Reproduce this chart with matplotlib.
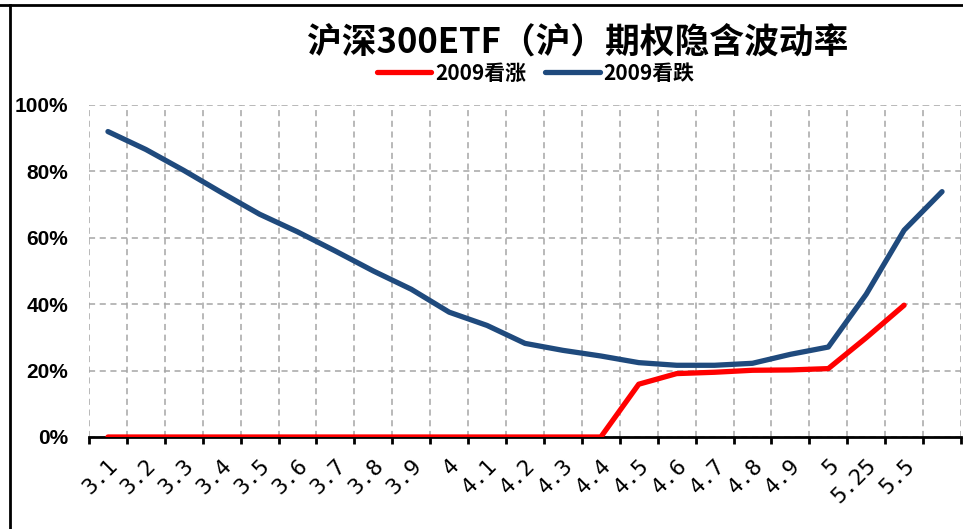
import matplotlib
matplotlib.use("Agg")
import matplotlib.pyplot as plt
from matplotlib.lines import Line2D
from matplotlib.ticker import FixedLocator, FuncFormatter

plt.rcParams['font.family'] = ['Noto Sans CJK SC', 'DejaVu Sans']

categories = ['3.1', '3.2', '3.3', '3.4', '3.5', '3.6', '3.7', '3.8', '3.9',
              '4', '4.1', '4.2', '4.3', '4.4', '4.5', '4.6', '4.7', '4.8', '4.9',
              '5', '5.25', '5.5', '']
call_2009 = [0.0, 0.0, 0.0, 0.0, 0.0, 0.0, 0.0, 0.0, 0.0, 0.0, 0.0, 0.0, 0.0, 0.0,
             0.159, 0.191, 0.195, 0.201, 0.202, 0.206, 0.299, 0.397]
put_2009 = [0.92, 0.866, 0.803, 0.736, 0.671, 0.618, 0.560, 0.50, 0.445, 0.376,
            0.336, 0.282, 0.261, 0.244, 0.224, 0.216, 0.216, 0.222, 0.249, 0.271,
            0.43, 0.623, 0.739]
yticks = [0.0, 0.2, 0.4, 0.6, 0.8, 1.0]

W, H = 963, 529
fig = plt.figure(figsize=(W / 100, H / 100), dpi=100)
ax = fig.add_axes([89 / W, (H - 437) / H, 872 / W, 332 / H])

red = '#FF0000'
blue = '#1F4A7D'
ax.plot(range(len(call_2009)), call_2009, color=red, lw=3.8,
        solid_capstyle='round', solid_joinstyle='round', label='2009看涨', zorder=4)
ax.plot(range(len(put_2009)), put_2009, color=blue, lw=3.8,
        solid_capstyle='round', solid_joinstyle='round', label='2009看跌', zorder=3)

n = len(categories)
ax.set_xlim(-0.5, n - 0.5)
ax.set_ylim(0, 1.0)

# category boundaries as major ticks, category centers as minor ticks (labels)
ax.xaxis.set_major_locator(FixedLocator([i - 0.5 for i in range(n + 1)]))
ax.xaxis.set_minor_locator(FixedLocator(list(range(n))))
ax.set_xticklabels([], minor=False)
ax.set_xticklabels(categories, minor=True)
ax.tick_params(axis='x', which='major', direction='out', length=5, width=2, color='black')
ax.tick_params(axis='x', which='minor', length=0, pad=13, labelsize=16)
for lab in ax.get_xticklabels(minor=True):
    lab.set_rotation(45)
    lab.set_ha('right')
    lab.set_va('top')
    lab.set_rotation_mode('anchor')
    lab.set_family(['DejaVu Sans Mono'])

ax.set_yticks(yticks)
ax.yaxis.set_major_formatter(FuncFormatter(lambda v, p: f'{v * 100:.0f}%'))
ax.tick_params(axis='y', length=0, pad=15)
for lab in ax.get_yticklabels():
    lab.set_family(['Liberation Sans'])
    lab.set_fontweight('bold')
    lab.set_fontsize(15)

ax.grid(True, which='major', axis='both', color='#A6A6A6', linestyle=(0, (4, 3)), lw=1.1)
ax.set_axisbelow(True)
for s in ['top', 'right', 'left']:
    ax.spines[s].set_visible(False)
ax.spines['bottom'].set_linewidth(2)
ax.spines['bottom'].set_color('black')
ax.spines['bottom'].set_zorder(2)

fig.text(578 / W, 1 - 42 / H, '沪深300ETF（沪）期权隐含波动率', ha='center', va='center',
         fontsize=25, fontweight='bold')

leg = fig.legend(loc='center', bbox_to_anchor=(536 / W, 1 - 73 / H), ncol=2, frameon=False,
                 handlelength=2.6, handletextpad=0.2, columnspacing=0.9, borderpad=0.1,
                 prop={'family': ['Noto Sans CJK SC', 'DejaVu Sans'], 'weight': 'bold', 'size': 15})

# frame lines from the screenshot
fig.add_artist(Line2D([0, 1], [1 - 5 / H, 1 - 5 / H], transform=fig.transFigure,
                      color='black', lw=2))
fig.add_artist(Line2D([10 / W, 10 / W], [0, 1 - 5 / H], transform=fig.transFigure,
                      color='black', lw=2))

fig.savefig('out.png', dpi=100)
